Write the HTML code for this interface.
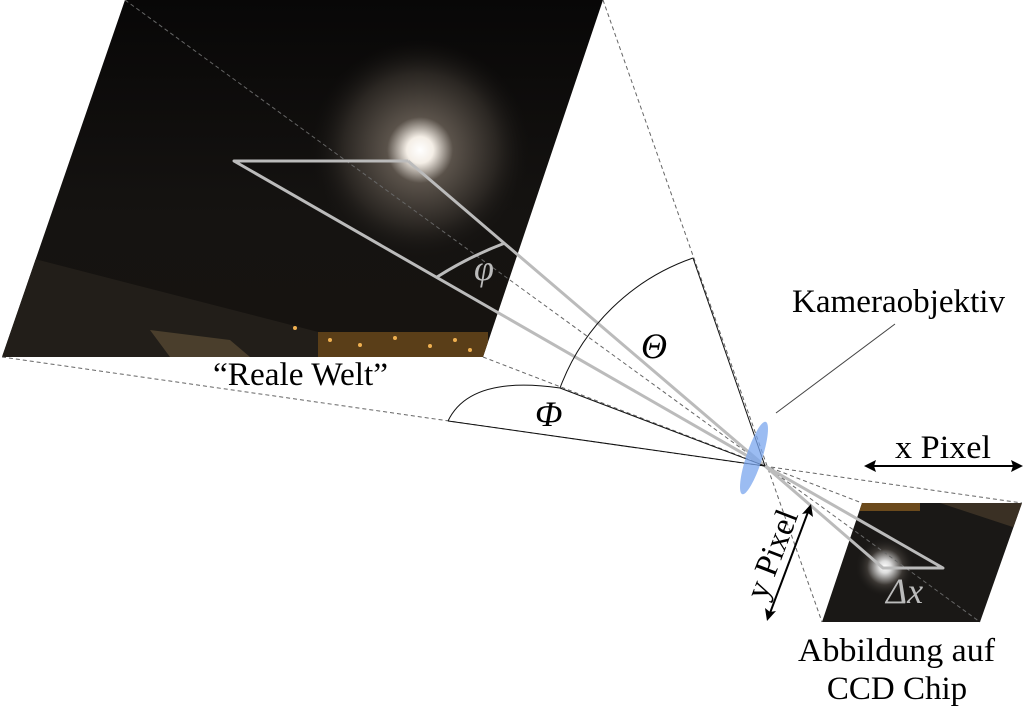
<!DOCTYPE html>
<html><head><meta charset="utf-8"><style>
html,body{margin:0;padding:0;background:#fff;}
svg{display:block;}
text{font-family:"Liberation Serif",serif;}
</style></head><body>
<svg width="1024" height="708" viewBox="0 0 1024 708" xmlns="http://www.w3.org/2000/svg">
<defs>
<clipPath id="big"><polygon points="125,0 603,0 483,357 2,357"/></clipPath>
<clipPath id="small"><polygon points="862,503 1022,503 980,622 822,622"/></clipPath>
<radialGradient id="moon" cx="420" cy="150" r="110" gradientUnits="userSpaceOnUse">
<stop offset="0" stop-color="#fff"/><stop offset="0.12" stop-color="#f4eee6"/><stop offset="0.3" stop-color="#5a524a"/><stop offset="0.7" stop-color="#2a2622"/><stop offset="1" stop-color="#141210" stop-opacity="0"/></radialGradient>
<radialGradient id="moon2" cx="885" cy="567" r="30" gradientUnits="userSpaceOnUse">
<stop offset="0" stop-color="#fff"/><stop offset="0.2" stop-color="#ddd"/><stop offset="0.6" stop-color="#3a3632"/><stop offset="1" stop-color="#1a1816" stop-opacity="0"/></radialGradient>
<linearGradient id="bg1" x1="0" y1="0" x2="0" y2="1"><stop offset="0" stop-color="#080707"/><stop offset="0.6" stop-color="#151311"/><stop offset="1" stop-color="#161310"/></linearGradient>
</defs>
<g clip-path="url(#big)">
<rect x="0" y="0" width="610" height="360" fill="url(#bg1)"/>
<rect x="0" y="0" width="610" height="360" fill="url(#moon)"/>
<polygon points="0,250 330,335 330,360 0,360" fill="#221e19"/>
<polygon points="150,330 230,340 250,357 170,357" fill="#4a3e2c"/>
<rect x="318" y="332" width="170" height="28" fill="#5a3e18"/>
<g fill="#f0b050"><circle cx="330" cy="340" r="2"/><circle cx="360" cy="345" r="2"/><circle cx="395" cy="338" r="2"/><circle cx="430" cy="346" r="2"/><circle cx="455" cy="340" r="2"/><circle cx="470" cy="350" r="2"/><circle cx="295" cy="328" r="2"/></g>
</g>
<g clip-path="url(#small)">
<rect x="820" y="500" width="205" height="125" fill="#1a1816"/>
<rect x="820" y="500" width="205" height="125" fill="url(#moon2)"/>
<rect x="860" y="503" width="60" height="8" fill="#6b4a1c"/>
<polygon points="940,503 1022,503 1022,530" fill="#3a3024"/>
</g>
<g stroke="#666" stroke-width="1" stroke-dasharray="4,3" fill="none">
<line x1="125" y1="0" x2="980" y2="622"/>
<line x1="603" y1="0" x2="822" y2="622"/>
<line x1="2" y1="357" x2="1022" y2="503"/>
<line x1="483" y1="357" x2="862" y2="503"/>
</g>
<g stroke="#bbb" stroke-width="3" fill="none" stroke-linejoin="round">
<polyline points="408,161 234,161 765,466 883,568 943,568 765,466 408,161"/>
<path d="M437,277 A376,376 0 0 1 505,243"/>
</g>
<g stroke="#111" stroke-width="1" fill="none">
<line x1="765" y1="466" x2="693" y2="258"/>
<line x1="765" y1="466" x2="560" y2="388"/>
<line x1="765" y1="466" x2="448" y2="421"/>
<path d="M693,258 A218,218 0 0 0 560,388"/>
<path d="M560,388 Q470,375 448,421"/>
<line x1="776" y1="413" x2="895" y2="324" stroke="#444"/>
</g>
<ellipse cx="754" cy="458" rx="8" ry="38" fill="#7aa6ee" opacity="0.75" transform="rotate(18 754 458)"/>
<g stroke="#000" stroke-width="2" fill="#000">
<line x1="872" y1="466" x2="1015" y2="466"/>
<polygon points="864,466 876,460 874,466 876,472" stroke="none"/>
<polygon points="1023,466 1011,460 1013,466 1011,472" stroke="none"/>
<line x1="808" y1="512" x2="770" y2="613"/>
<polygon points="811,504 813,517 808,513 802,514" stroke="none"/>
<polygon points="767,621 765,608 770,612 776,611" stroke="none"/>
</g>
<text x="792" y="312" font-size="33" textLength="213" lengthAdjust="spacingAndGlyphs">Kameraobjektiv</text>
<text x="213" y="385" font-size="33" textLength="175" lengthAdjust="spacingAndGlyphs">“Reale Welt”</text>
<text x="895" y="458" font-size="33" textLength="96" lengthAdjust="spacingAndGlyphs">x Pixel</text>
<text x="0" y="0" font-size="33" text-anchor="middle" transform="translate(782,558) rotate(-69)">y Pixel</text>
<text x="798" y="661" font-size="33" textLength="197" lengthAdjust="spacingAndGlyphs">Abbildung auf</text>
<text x="897" y="699" font-size="33" text-anchor="middle">CCD Chip</text>
<text x="641" y="358" font-size="36" font-style="italic">Θ</text>
<text x="535" y="426" font-size="36" font-style="italic">Φ</text>
<text x="474" y="280" font-size="36" font-style="italic" fill="#bbb">φ</text>
<text x="886" y="603" font-size="36" font-style="italic" fill="#bbb">Δx</text>
</svg>
</body></html>
